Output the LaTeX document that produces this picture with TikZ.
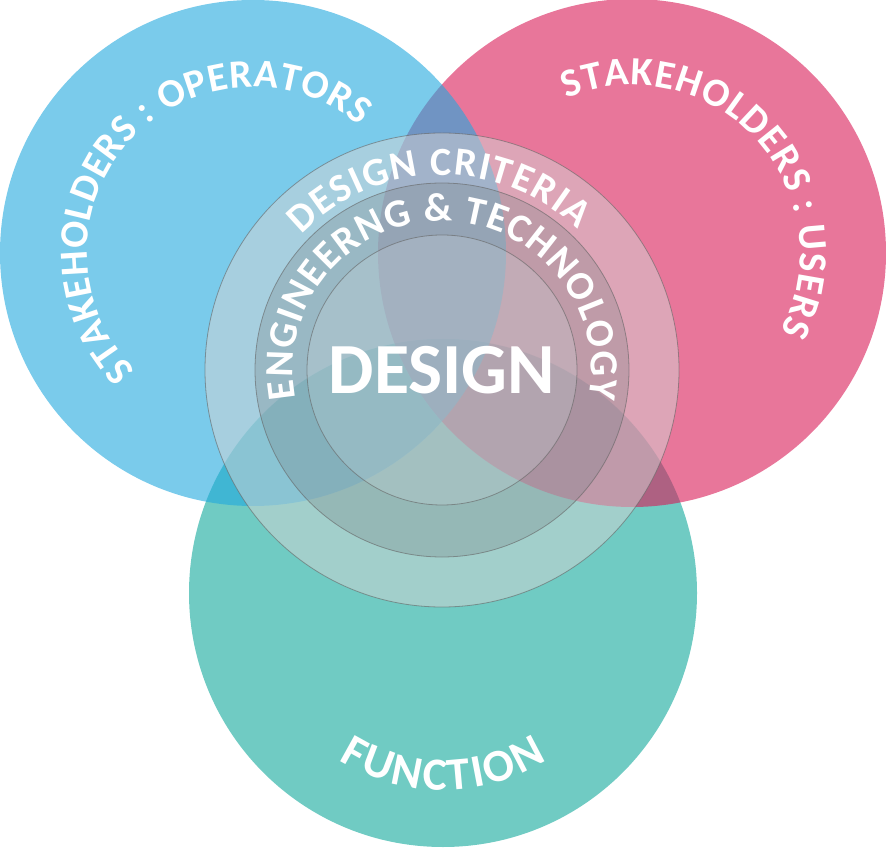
\documentclass[tikz,border=0pt]{standalone}
\usepackage{fontspec}
\setmainfont{Carlito}
\usetikzlibrary{decorations.text}
\definecolor{opblue}{RGB}{33,168,222}
\definecolor{userpink}{RGB}{217,27,87}
\definecolor{functeal}{RGB}{17,168,155}
\definecolor{ringline}{RGB}{100,100,100}
\definecolor{ringlight}{RGB}{212,212,212}
\definecolor{ringdark}{RGB}{120,130,135}
\definecolor{ringcore}{RGB}{205,220,225}
\newcommand{\venntext}{\fontsize{40}{42}\selectfont\bfseries\color{white}}
\newcommand{\bottomtext}{\fontsize{46}{48}\selectfont\bfseries\color{white}}

\begin{document}
\begin{tikzpicture}[x=1pt, y=1pt,
    venn/.style={fill opacity=0.6},
    ring/.style={draw=ringline, draw opacity=0.6, line width=0.8pt},
    arctext/.style={decorate, decoration={text along path, text align={fit to path}, text={#1}}}]
        \useasboundingbox (0,0) rectangle (886,847);
        % centres
        \coordinate (opc) at (253,594);
        \coordinate (usc) at (632,594);
        \coordinate (fnc) at (443,254);
        \coordinate (mid) at (442,477);
        % circles
        \fill[venn, functeal] (fnc) circle[radius=254pt];
        \fill[venn, userpink] (usc) circle[radius=254pt];
        \fill[venn, opblue] (opc) circle[radius=253pt];
        % rings
        \draw[ring, fill=ringlight, fill opacity=0.5] (mid) circle[radius=237pt];
        \draw[ring, fill=ringdark, fill opacity=0.3] (mid) circle[radius=187pt];
        \draw[ring, fill=ringcore, fill opacity=0.25] (mid) circle[radius=135pt];
        % labels
        \path[arctext={|\venntext|STAKEHOLDERS : OPERATORS}] (opc) ++(225:166pt) arc[start angle=225, end angle=50, radius=166pt];
        \path[arctext={|\venntext|STAKEHOLDERS : USERS}] (usc) ++(113:168pt) arc[start angle=113, end angle=-28, radius=168pt];
        \path[arctext={|\bottomtext|FUNCTION}] (fnc) ++(238:197pt) arc[start angle=238, end angle=302, radius=197pt];
        \path[arctext={|\venntext|DESIGN CRITERIA}] (mid) ++(136:195pt) arc[start angle=136, end angle=46, radius=195pt];
        \path[arctext={|\venntext|ENGINEERNG {\&} TECHNOLOGY}] (mid) ++(191:149pt) arc[start angle=191, end angle=-11, radius=149pt];
        \node[text=white, font=\fontsize{72}{76}\selectfont\bfseries, inner sep=0pt] (core) at (mid) {DESIGN};
      \end{tikzpicture}
\end{document}
